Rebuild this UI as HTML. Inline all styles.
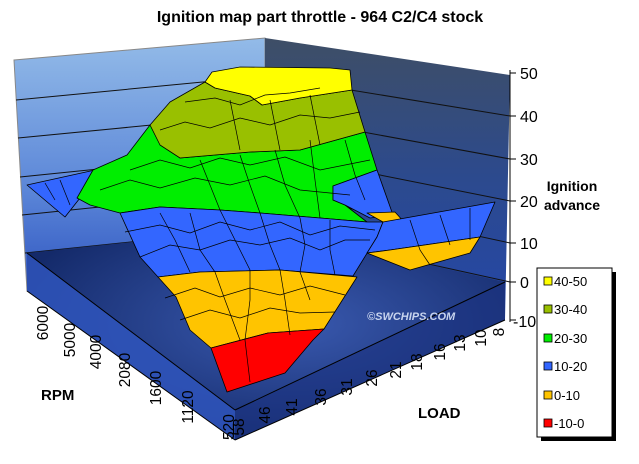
<!DOCTYPE html>
<html><head><meta charset="utf-8"><style>
body{margin:0;background:#fff;width:639px;height:464px;overflow:hidden}
svg{display:block;font-family:"Liberation Sans",Arial,sans-serif}
</style></head><body>
<svg width="639" height="464" viewBox="0 0 639 464">
<defs>
<linearGradient id="lw" x1="0" y1="0" x2="0" y2="1"><stop offset="0" stop-color="#93bbe8"/><stop offset="0.6" stop-color="#5b86d8"/><stop offset="1" stop-color="#2f55c0"/></linearGradient>
<linearGradient id="rw" x1="0" y1="0" x2="0" y2="1"><stop offset="0" stop-color="#3e4e66"/><stop offset="0.5" stop-color="#2c4a8e"/><stop offset="1" stop-color="#2446a8"/></linearGradient>
<radialGradient id="fl" cx="0.55" cy="0.45" r="0.6"><stop offset="0" stop-color="#3a5ab0"/><stop offset="1" stop-color="#142a6a"/></radialGradient>
</defs>
<text x="320" y="22" text-anchor="middle" font-size="16" font-weight="bold">Ignition map part throttle - 964 C2/C4 stock</text>
<polygon points="14,60 265,38 265,266 27,291" fill="url(#lw)" stroke="#888" stroke-width="1"/>
<polygon points="265,38 510,75 505,320 265,266" fill="url(#rw)"/>
<g stroke="#111" stroke-width="1" fill="none">
<polyline points="16,100 265,76 510,116"/>
<polyline points="18,138 265,114 510,159"/>
<polyline points="20,177 265,152 510,201"/>
<polyline points="22,215 265,190 510,243"/>
<polyline points="25,253 265,228 510,282"/>
</g>
<polygon points="27,253 265,228 505,282 505,320 235,440 27,291" fill="url(#fl)"/>
<polygon points="27,253 235,410 235,440 27,291" fill="#2f55bc" opacity="0.85"/>
<polygon points="235,410 505,282 505,320 235,440" fill="#1a3280" opacity="0.6"/>
<g stroke="#000" stroke-width="1">
<line x1="27" y1="253" x2="235" y2="410"/><line x1="235" y1="410" x2="505" y2="282"/>
<line x1="27" y1="291" x2="235" y2="440"/><line x1="235" y1="440" x2="505" y2="320"/>
<line x1="510" y1="70" x2="510" y2="322"/>
<line x1="510" y1="73" x2="516" y2="73"/><line x1="510" y1="116" x2="516" y2="116"/><line x1="510" y1="159" x2="516" y2="159"/><line x1="510" y1="201" x2="516" y2="201"/><line x1="510" y1="243" x2="516" y2="243"/><line x1="510" y1="282" x2="516" y2="282"/><line x1="510" y1="320" x2="516" y2="320"/>
</g>
<g stroke="#000" stroke-width="0.8" stroke-linejoin="round">
<polygon points="27,185 95,170 112,180 80,198 65,217" fill="#3366ff"/>
<polygon points="77,198 93,170 127,155 150,125 180,158 250,152 300,150 365,132 377,170 333,186 333,200 345,205 367,222 320,218 260,213 220,210 160,207 120,213 90,205" fill="#00ee00"/>
<polygon points="150,125 170,102 205,82 215,88 250,96 262,105 300,98 352,90 365,132 300,150 250,152 180,158 160,145" fill="#99c000"/>
<polygon points="205,82 212,72 240,67 330,68 350,70 352,90 300,98 262,105 250,96 215,88" fill="#ffff00"/>
<polygon points="120,213 160,207 220,210 260,213 320,218 367,222 383,222 377,237 353,276 280,270 200,272 158,277 140,257" fill="#3366ff"/>
<polygon points="333,186 377,170 393,215 370,218 345,205 333,200" fill="#3366ff"/>
<polygon points="367,213 395,212 404,222 383,222" fill="#ffc400"/>
<polygon points="383,222 495,202 480,237 390,250 367,253 377,237" fill="#3366ff"/>
<polygon points="367,253 390,250 480,237 470,253 410,270" fill="#ffc400"/>
<polygon points="158,277 200,272 280,270 357,277 324,329 268,333 211,348 190,330 176,297" fill="#ffc400"/>
<polygon points="211,348 268,333 324,329 313,340 285,373 227,392" fill="#ff0000"/>
</g>
<g stroke="#000" stroke-width="0.7" fill="none">
<polyline points="140,257 170,245 200,250 230,240 260,245 290,238 320,250 345,240 370,240"/>
<polyline points="125,232 160,225 190,233 220,222 250,230 280,222 310,235 340,226 375,230"/>
<polyline points="165,298 195,288 220,297 250,288 280,295 310,286 345,295"/>
<polyline points="180,320 210,310 240,318 270,308 300,313 335,312"/>
<polyline points="100,190 130,180 160,188 195,178 230,185 265,176 300,190 350,195"/>
<polyline points="130,170 160,160 190,168 220,158 250,165 285,157 320,170 370,160"/>
<polyline points="160,130 185,122 210,128 240,118 270,125 300,115 330,118 360,112"/>
<polyline points="185,102 215,98 240,105 265,95 290,93 320,88"/>
<polyline points="160,213 175,240 190,272"/>
<polyline points="190,213 200,250 215,272 225,300 240,340"/>
<polyline points="220,210 235,240 250,270 250,300 245,340 250,382"/>
<polyline points="260,213 270,245 280,270 285,300 290,335"/>
<polyline points="300,218 305,245 300,272 310,300"/>
<polyline points="330,220 330,250 335,275"/>
<polyline points="200,160 210,185 220,210"/><polyline points="240,155 250,185 260,213"/><polyline points="275,150 285,185 300,218"/><polyline points="310,140 315,180 320,218"/>
<polyline points="230,100 235,125 240,150"/><polyline points="270,100 275,125 280,150"/><polyline points="310,95 315,120 320,145"/>
<polyline points="345,140 355,175 365,200"/>
<polyline points="410,220 420,250 430,265"/><polyline points="440,215 450,245"/><polyline points="470,208 470,240"/>
<polyline points="60,180 70,205"/><polyline points="45,183 55,200"/>
</g>
<text x="367" y="320" font-size="11" font-weight="bold" font-style="italic" fill="#c8d4ee">©SWCHIPS.COM</text>
<g font-size="16" fill="#000">
<text x="520" y="79">50</text><text x="520" y="122">40</text><text x="520" y="165">30</text><text x="520" y="207">20</text><text x="520" y="249">10</text><text x="520" y="288">0</text><text x="513" y="327">-10</text>
</g>
<text x="572" y="191" font-size="14" font-weight="bold" text-anchor="middle">Ignition</text>
<text x="572" y="210" font-size="14" font-weight="bold" text-anchor="middle">advance</text>
<text x="41" y="400" font-size="15" font-weight="bold">RPM</text>
<text x="418" y="418" font-size="15" font-weight="bold">LOAD</text>
<g font-size="15.5" text-anchor="middle">
<text transform="translate(48,323) rotate(-90)">6000</text>
<text transform="translate(75,340) rotate(-90)">5000</text>
<text transform="translate(101,352) rotate(-90)">4000</text>
<text transform="translate(130,370) rotate(-90)">2080</text>
<text transform="translate(161,388) rotate(-90)">1600</text>
<text transform="translate(193,407) rotate(-90)">1120</text>
<text transform="translate(234,427) rotate(-90)">520</text>
<text transform="translate(244,427) rotate(-90)">58</text>
<text transform="translate(270,415) rotate(-90)">46</text>
<text transform="translate(297,407) rotate(-90)">41</text>
<text transform="translate(326,397) rotate(-90)">36</text>
<text transform="translate(352,387) rotate(-90)">31</text>
<text transform="translate(377,378) rotate(-90)">26</text>
<text transform="translate(401,370) rotate(-90)">21</text>
<text transform="translate(422,362) rotate(-90)">18</text>
<text transform="translate(445,352) rotate(-90)">16</text>
<text transform="translate(465,343) rotate(-90)">13</text>
<text transform="translate(486,338) rotate(-90)">10</text>
<text transform="translate(504,332) rotate(-90)">8</text>
</g>
<rect x="541" y="272" width="75" height="169" fill="#000"/>
<rect x="537" y="268" width="75" height="169" fill="#fff" stroke="#000"/>
<g font-size="13" stroke="#000" stroke-width="0.8">
<rect x="544" y="277" width="8" height="8" fill="#ffff00"/>
<rect x="544" y="305" width="8" height="8" fill="#99c000"/>
<rect x="544" y="334" width="8" height="8" fill="#00ee00"/>
<rect x="544" y="362" width="8" height="8" fill="#3366ff"/>
<rect x="544" y="391" width="8" height="8" fill="#ffc400"/>
<rect x="544" y="419" width="8" height="8" fill="#ff0000"/>
</g>
<g font-size="13">
<text x="554" y="286">40-50</text><text x="554" y="314">30-40</text><text x="554" y="343">20-30</text><text x="554" y="371">10-20</text><text x="554" y="400">0-10</text><text x="554" y="428">-10-0</text>
</g>
</svg>
</body></html>
